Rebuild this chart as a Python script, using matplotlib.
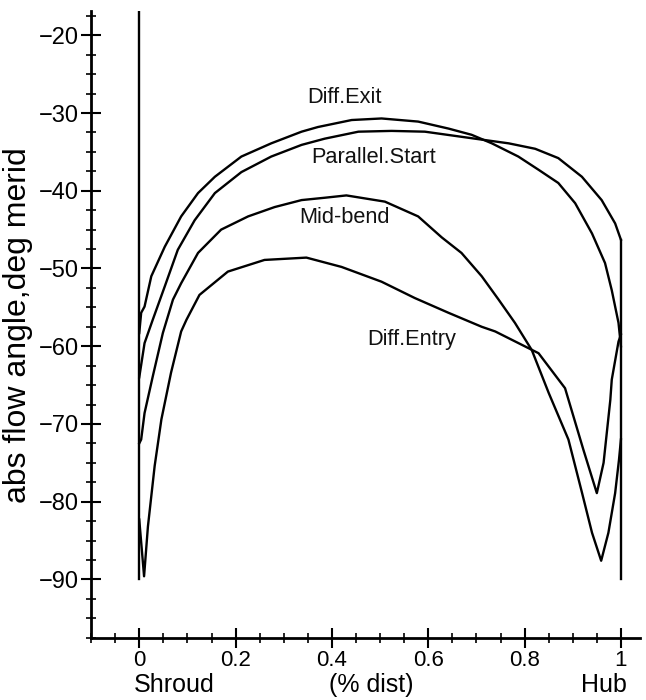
#!/usr/bin/env python3
"""
Absolute flow angle across the passage, shroud to hub, at four stations.
"""

import matplotlib
matplotlib.use('Agg')
import matplotlib.pyplot as plt
from matplotlib.ticker import MultipleLocator

# station curves: x = fraction of distance shroud -> hub, y = abs flow angle (deg)
diff_exit_x = [0.0, 0.004, 0.011, 0.025, 0.053, 0.087, 0.122, 0.157, 0.212, 0.274,
               0.337, 0.371, 0.441, 0.503, 0.579, 0.642, 0.69, 0.732, 0.787, 0.829,
               0.87, 0.905, 0.94, 0.967, 0.981, 0.995, 1.0]
diff_exit_y = [-58.3, -55.7, -54.9, -51.0, -47.2, -43.3, -40.3, -38.2, -35.6, -33.9,
               -32.4, -31.8, -30.9, -30.7, -31.1, -32.0, -32.8, -33.9, -35.6, -37.3,
               -39.0, -41.6, -45.5, -49.3, -52.8, -57.0, -60.0]

parallel_start_x = [0.0, 0.004, 0.011, 0.028, 0.053, 0.08, 0.115, 0.157, 0.212, 0.274,
                    0.337, 0.385, 0.455, 0.524, 0.593, 0.697, 0.767, 0.822, 0.87, 0.919,
                    0.96, 0.988, 1.0]
parallel_start_y = [-64.0, -62.4, -59.6, -56.6, -52.3, -47.6, -43.8, -40.3, -37.6, -35.6,
                    -34.1, -33.3, -32.4, -32.3, -32.4, -33.3, -33.9, -34.6, -35.8, -38.2,
                    -41.2, -44.2, -46.3]

mid_bend_x = [0.0, 0.004, 0.011, 0.028, 0.049, 0.07, 0.087, 0.122, 0.17, 0.226,
              0.281, 0.337, 0.385, 0.43, 0.51, 0.579, 0.628, 0.669, 0.711, 0.746,
              0.78, 0.815, 0.85, 0.891, 0.919, 0.94, 0.959, 0.974, 0.988, 0.996, 1.0]
mid_bend_y = [-72.5, -72.0, -68.6, -63.9, -58.3, -54.0, -51.9, -48.0, -45.0, -43.3,
              -42.1, -41.2, -40.9, -40.6, -41.4, -43.3, -46.0, -48.0, -51.0, -54.0,
              -57.0, -60.5, -66.0, -72.0, -78.8, -84.0, -87.6, -84.0, -78.9, -74.6, -72.0]

diff_entry_x = [0.0, 0.01, 0.018, 0.032, 0.046, 0.066, 0.087, 0.098, 0.125, 0.184,
                0.26, 0.347, 0.42, 0.503, 0.572, 0.642, 0.711, 0.739, 0.829, 0.884,
                0.922, 0.95, 0.964, 0.978, 0.981, 0.995, 1.0]
diff_entry_y = [-82.3, -89.6, -83.2, -75.4, -69.4, -63.4, -58.1, -56.6, -53.4, -50.4,
                -48.9, -48.6, -49.8, -51.7, -53.8, -55.7, -57.5, -58.1, -60.9, -65.4,
                -73.3, -78.9, -75.0, -66.9, -64.3, -59.4, -58.5]

# curve labels: (text, x, y)
curve_labels = [('Diff.Exit', 0.426, -28.0),
                ('Parallel.Start', 0.487, -35.7),
                ('Mid-bend', 0.426, -43.5),
                ('Diff.Entry', 0.565, -59.2)]

# walls
wall_x = [0.0, 1.0]
wall_bottom = -90.0
hub_wall_top = -46.3

x_ticks = [0, 0.2, 0.4, 0.6, 0.8, 1]
x_tick_labels = ['0', '0.2', '0.4', '0.6', '0.8', '1']
y_ticks = [-20, -30, -40, -50, -60, -70, -80, -90]


def main():
    plt.rcParams['font.family'] = ['Liberation Sans', 'DejaVu Sans']

    fig = plt.figure(figsize=(6.46, 7.0), dpi=100)
    ax = fig.add_axes([0.141, 0.089, 0.85, 0.895])

    lw = 1.7
    for xs, ys in [(diff_exit_x, diff_exit_y), (parallel_start_x, parallel_start_y),
                   (mid_bend_x, mid_bend_y), (diff_entry_x, diff_entry_y)]:
        ax.plot(xs, ys, color='black', linewidth=lw, solid_joinstyle='round')

    ax.set_xlim(-0.1, 1.04)
    ax.set_ylim(-97.5, -16.9)

    # shroud wall runs to the top, hub wall up to the last station
    ax.plot([wall_x[0], wall_x[0]], [wall_bottom, -16.9], color='black', linewidth=lw)
    ax.plot([wall_x[1], wall_x[1]], [wall_bottom, hub_wall_top], color='black', linewidth=lw)

    for text, tx, ty in curve_labels:
        ax.text(tx, ty, text, ha='center', va='center', fontsize=15.7, color='#111111')

    ax.spines['top'].set_visible(False)
    ax.spines['right'].set_visible(False)
    ax.spines['left'].set_linewidth(2)
    ax.spines['bottom'].set_linewidth(2)

    ax.set_xticks(x_ticks)
    ax.set_xticklabels(x_tick_labels)
    ax.set_yticks(y_ticks)
    ax.xaxis.set_minor_locator(MultipleLocator(0.05))
    ax.yaxis.set_minor_locator(MultipleLocator(2.5))
    ax.tick_params(which='major', direction='inout', length=14, width=1.5, labelsize=17)
    ax.tick_params(which='minor', direction='inout', length=7, width=1.2)
    ax.tick_params(axis='y', which='major', pad=2)
    ax.tick_params(axis='x', which='major', pad=1.5, labelsize=16)

    # axis title, rotated, centred on the plot height
    fig.text(18 / 646, 1 - 325 / 700, 'abs flow angle,deg merid', rotation=90,
             ha='center', va='center', fontsize=23)

    # bottom captions under the x ticks
    fig.text(174 / 646, 1 - 685 / 700, 'Shroud', ha='center', va='center', fontsize=18)
    fig.text(371 / 646, 1 - 685 / 700, '(% dist)', ha='center', va='center', fontsize=18)
    fig.text(604 / 646, 1 - 685 / 700, 'Hub', ha='center', va='center', fontsize=18)

    fig.savefig('out.png', dpi=100)
    plt.close(fig)


if __name__ == "__main__":
    main()
